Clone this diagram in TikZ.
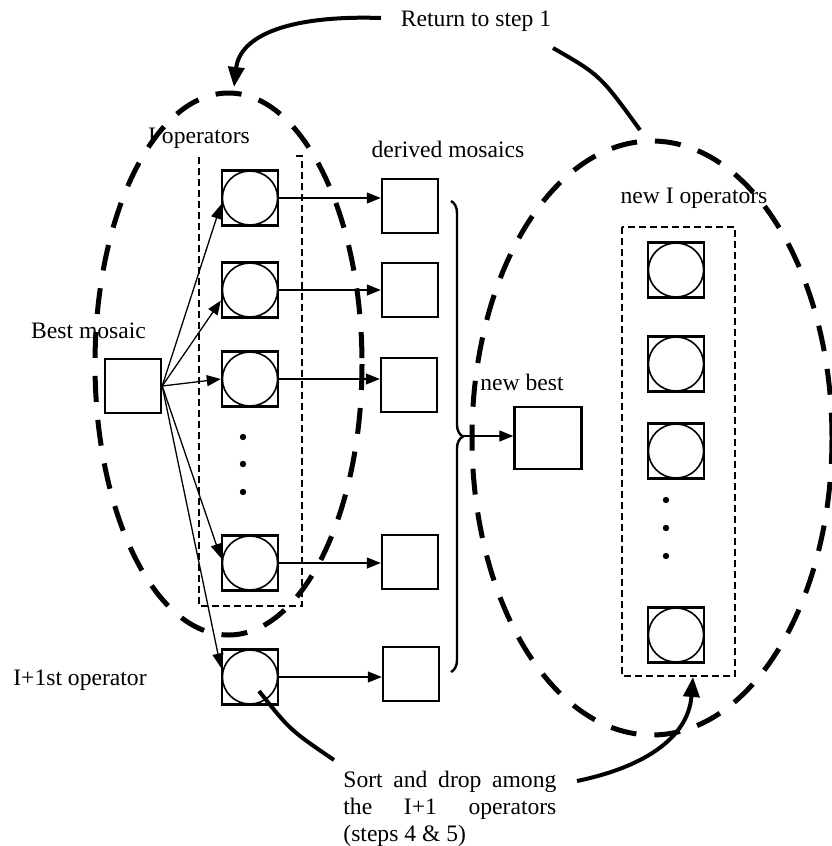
\documentclass[tikz,border=0pt]{standalone}
\usepackage{fontspec}
\setmainfont{Liberation Serif}
\usetikzlibrary{arrows.meta,decorations.pathreplacing}
\tolerance=9999
\hyphenpenalty=10000

\begin{document}
\begin{tikzpicture}[x=0.5pt,y=-0.5pt,
		font=\fontsize{11.8pt}{13.4pt}\selectfont,
		>={Triangle[length=7pt,width=5.5pt]},
		opbox/.style={draw, line width=1.2pt, minimum width=28pt, minimum height=27.5pt, inner sep=0pt,
			path picture={\draw[line width=0.8pt] (path picture bounding box.center) ellipse [x radius=13.8pt, y radius=13.5pt];}},
		derbox/.style={draw, line width=1.2pt, minimum width=28pt, minimum height=27pt, inner sep=0pt},
		lbl/.style={anchor=base, inner sep=0pt},
		ring/.style={line width=2.5pt, dash pattern=on 13pt off 9pt},
		grp/.style={line width=1pt, dash pattern=on 3.5pt off 2pt},
		link/.style={line width=0.65pt},
		bigarrow/.style={line width=2pt, -{Triangle[length=10pt,width=8pt]}}]
		\useasboundingbox (0,0) rectangle (831,846);

		% the two groups
		\draw[ring] (228.5,364) ellipse [x radius=133.5, y radius=271];
		\draw[ring] (652,438) ellipse [x radius=180, y radius=297];
		\draw[grp] (296,156) -- (302,156) -- (302,606) -- (199,606) -- (199,157);
		\draw[grp] (622,227) rectangle (735,676);

		% I operators
		\draw (250,198) node[opbox] (op1) {};
		\draw (250,290) node[opbox] (op2) {};
		\draw (250,379) node[opbox] (op3) {};
		\draw (250,563) node[opbox] (op4) {};
		\draw (250,677) node[opbox] (opn) {};
		\fill (243,437) circle (1.6pt);
		\fill (243,464) circle (1.6pt);
		\fill (243,492) circle (1.6pt);

		% derived mosaics
		\draw (410,206) node[derbox] (der1) {};
		\draw (410,290) node[derbox] (der2) {};
		\draw (409,385) node[derbox] (der3) {};
		\draw (410,562) node[derbox] (der4) {};
		\draw (411,674) node[derbox] (dern) {};

		\draw (133,386) node[derbox] (best) {};
		\draw (548,438) node[derbox, minimum width=33.5pt, minimum height=31pt] (newbest) {};

		% new I operators
		\draw (676,270) node[opbox] (nop1) {};
		\draw (676,364) node[opbox] (nop2) {};
		\draw (676,451) node[opbox] (nop3) {};
		\draw (676,635) node[opbox] (nop4) {};
		\fill (666,500) circle (1.6pt);
		\fill (666,528) circle (1.6pt);
		\fill (666,556) circle (1.6pt);

		% labels
		\draw (476,26) node[lbl] (ret) {Return to step 1};
		\draw (199,143) node[lbl] (iops) {I operators};
		\draw (448,157) node[lbl] (dertxt) {derived mosaics};
		\draw (88.5,338) node[lbl] (besttxt) {Best mosaic};
		\draw (522,390) node[lbl] (newbesttxt) {new best};
		\draw (694,203) node[lbl] (niops) {new I operators};
		\draw (80,685) node[lbl] (optxt) {I+1st operator};
		\draw (343,771) node[anchor=north west, inner sep=0pt, text width=106.5pt, align=justify] (sortnote)
			{Sort and drop among the I+1 operators (steps 4 \& 5)};

		% best mosaic to operators
		\draw[link,->] (best.east) -- (op1.193);
		\draw[link,->] (best.east) -- (op2.200);
		\draw[link,->] (best.east) -- (op3.west);
		\draw[link,->] (best.east) -- (op4.170);
		\draw[link,->] (best.east) -- (opn.162);

		% operators to derived mosaics
		\draw[link,->] (op1) -- (op1 -| der1.west);
		\draw[link,->] (op2) -- (op2 -| der2.west);
		\draw[link,->] (op3) -- (op3 -| der3.west);
		\draw[link,->] (op4) -- (op4 -| der4.west);
		\draw[link,->] (opn) -- (opn -| dern.west);

		% brace to new best
		\coordinate (bracetop) at (451,201);
		\coordinate (bracebot) at (451,672);
		\coordinate (bracetip) at (463,436);
		\draw[line width=1.2pt, decorate, decoration={brace, amplitude=6pt}] (bracetop) -- (bracebot);
		\draw[link,->] (bracetip) -- (bracetip -| newbest.west);

		% return to step 1
		\coordinate (retfoot) at (640,130);
		\coordinate (rethead) at (553,48);
		\coordinate (retfrom) at (381,18);
		\coordinate (retto) at (234,87);
		\draw[line width=2pt] (retfoot) .. controls (600,75) .. (rethead);
		\draw[bigarrow] (retfrom) .. controls (290,15) and (240,35) .. (retto);

		% sort and drop
		\coordinate (sortfrom) at (259,691);
		\coordinate (sortin) at (334,760);
		\coordinate (sortout) at (577,781);
		\coordinate (sortto) at (693,677);
		\draw[line width=2pt] (sortfrom) .. controls (290,730) .. (sortin);
		\draw[bigarrow] (sortout) .. controls (640,768) and (688,740) .. (sortto);
	\end{tikzpicture}
\end{document}
